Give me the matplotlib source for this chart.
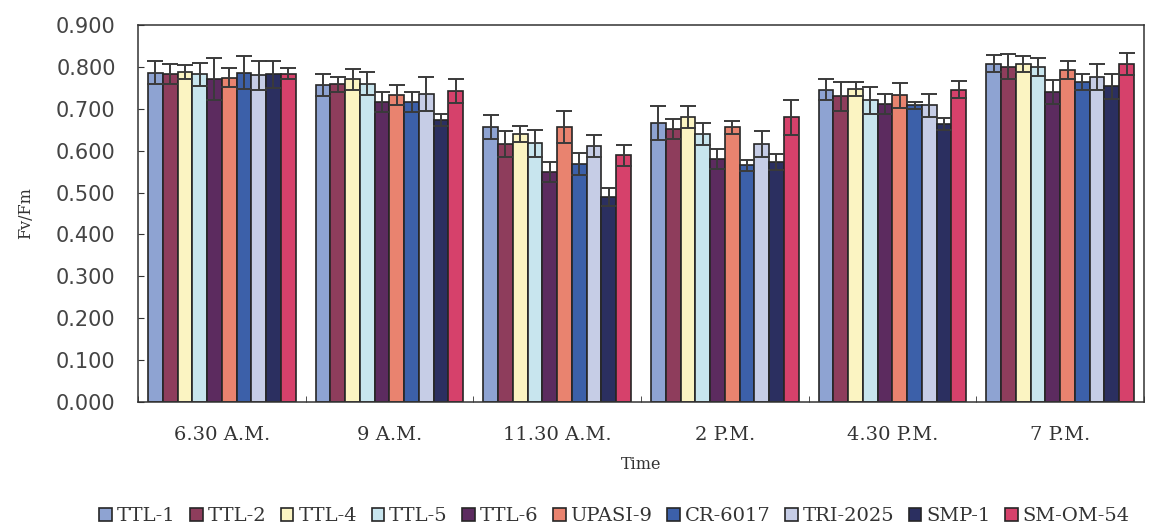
import numpy as np
import matplotlib
matplotlib.use("Agg")
import matplotlib.pyplot as plt
from matplotlib.ticker import FixedLocator, FormatStrFormatter

times = ["6.30 A.M.", "9 A.M.", "11.30 A.M.", "2 P.M.", "4.30 P.M.", "7 P.M."]
cultivars = ["TTL-1", "TTL-2", "TTL-4", "TTL-5", "TTL-6", "UPASI-9",
             "CR-6017", "TRI-2025", "SMP-1", "SM-OM-54"]

# Mean Fv/Fm for each cultivar at each time of day
ttl1 = [0.786, 0.756, 0.656, 0.666, 0.746, 0.808]
ttl2 = [0.784, 0.758, 0.616, 0.652, 0.730, 0.800]
ttl4 = [0.788, 0.770, 0.640, 0.680, 0.748, 0.806]
ttl5 = [0.782, 0.760, 0.618, 0.640, 0.720, 0.800]
ttl6 = [0.772, 0.716, 0.549, 0.580, 0.712, 0.740]
upasi9 = [0.774, 0.732, 0.656, 0.656, 0.732, 0.792]
cr6017 = [0.786, 0.716, 0.569, 0.565, 0.708, 0.764]
tri2025 = [0.780, 0.735, 0.612, 0.616, 0.708, 0.776]
smp1 = [0.782, 0.674, 0.489, 0.573, 0.664, 0.754]
smom54 = [0.784, 0.742, 0.589, 0.680, 0.746, 0.806]

# Standard deviations
ttl1_sd = [0.028, 0.026, 0.028, 0.040, 0.024, 0.020]
ttl2_sd = [0.024, 0.019, 0.032, 0.024, 0.035, 0.030]
ttl4_sd = [0.016, 0.026, 0.020, 0.026, 0.017, 0.019]
ttl5_sd = [0.027, 0.028, 0.032, 0.026, 0.032, 0.022]
ttl6_sd = [0.050, 0.024, 0.024, 0.024, 0.024, 0.028]
upasi9_sd = [0.023, 0.024, 0.038, 0.016, 0.030, 0.022]
cr6017_sd = [0.039, 0.024, 0.026, 0.013, 0.008, 0.020]
tri2025_sd = [0.034, 0.041, 0.026, 0.032, 0.028, 0.030]
smp1_sd = [0.032, 0.014, 0.022, 0.019, 0.014, 0.030]
smom54_sd = [0.013, 0.028, 0.025, 0.042, 0.020, 0.026]

means = [ttl1, ttl2, ttl4, ttl5, ttl6, upasi9, cr6017, tri2025, smp1, smom54]
sds = [ttl1_sd, ttl2_sd, ttl4_sd, ttl5_sd, ttl6_sd, upasi9_sd,
       cr6017_sd, tri2025_sd, smp1_sd, smom54_sd]

colors = ["#8ea3d2", "#8e3d5c", "#fbf4c2", "#c8e5ee", "#5c2b5f",
          "#e9836f", "#3c60a9", "#c6cde6", "#2b2f60", "#d6416b"]

fig = plt.figure(figsize=(11.66, 5.32), dpi=100)
ax = fig.add_axes([0.1183, 0.2444, 0.8628, 0.7086])

n = len(cultivars)
group_w = 0.88
bw = group_w / n
x = np.arange(len(times)) + 0.5

for i, (name, m, s, c) in enumerate(zip(cultivars, means, sds, colors)):
    pos = x - group_w / 2 + bw * (i + 0.5)
    ax.bar(pos, m, width=bw, color=c, edgecolor="#262626", linewidth=1.2,
           label=name, zorder=2)
    ax.errorbar(pos, m, yerr=s, fmt="none", ecolor="#3a3a3a", elinewidth=1.4,
                capsize=5.5, capthick=1.4, zorder=3)

ax.set_xlim(0, len(times))
ax.set_ylim(0, 0.9)
ax.yaxis.set_major_locator(FixedLocator(np.arange(0, 0.901, 0.1)))
ax.yaxis.set_major_formatter(FormatStrFormatter("%.3f"))
ax.set_xticks(x)
ax.set_xticklabels(times, family="DejaVu Serif", fontsize=14, color="#333333")
ax.xaxis.set_minor_locator(FixedLocator(np.arange(0, len(times) + 1)))
ax.tick_params(axis="x", which="major", length=0, pad=17)
ax.tick_params(axis="x", which="minor", direction="in", length=4, color="#333333")
ax.tick_params(axis="y", direction="in", length=4, color="#333333",
               labelsize=15, labelcolor="#444444", pad=16)
for sp in ax.spines.values():
    sp.set_color("#333333")
    sp.set_linewidth(1.1)

ax.set_ylabel("Fv/Fm", family="DejaVu Serif", fontsize=11.5, color="#333333",
              labelpad=16)
ax.set_xlabel("Time", family="DejaVu Serif", fontsize=11.5, color="#333333",
              labelpad=9)

handles, labels = ax.get_legend_handles_labels()
leg = fig.legend(handles, labels, loc="center", bbox_to_anchor=(0.527, 0.03),
                 ncol=n, frameon=False, prop={"family": "DejaVu Serif", "size": 14},
                 handlelength=0.65, handleheight=0.65, handletextpad=0.25,
                 columnspacing=0.75, borderaxespad=0)
for t in leg.get_texts():
    t.set_color("#333333")

fig.savefig("out.png", dpi=100, facecolor="white")
